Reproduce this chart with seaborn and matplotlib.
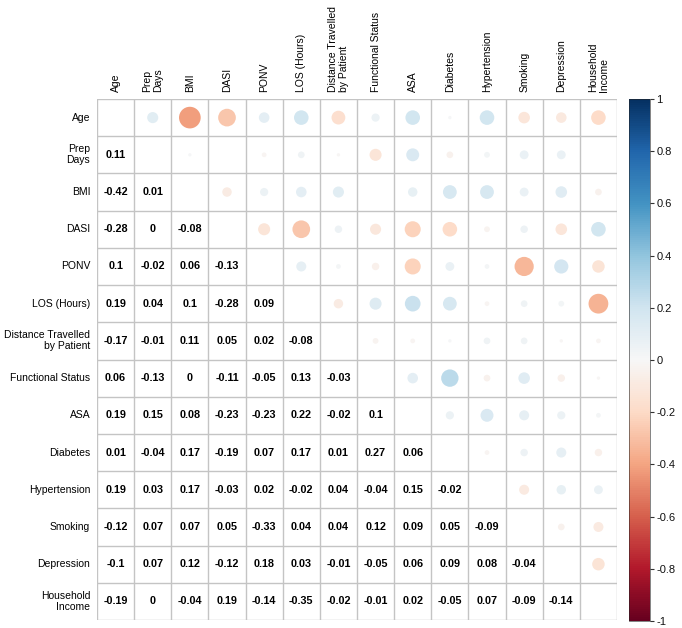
import numpy as np
import pandas as pd
import matplotlib
matplotlib.use("Agg")
import matplotlib.pyplot as plt
import seaborn as sns

sns.set_style("white")
plt.rcParams['font.family'] = ['Liberation Sans', 'DejaVu Sans']

labels = ["Age", "Prep\nDays", "BMI", "DASI", "PONV", "LOS (Hours)",
          "Distance Travelled\nby Patient", "Functional Status", "ASA",
          "Diabetes", "Hypertension", "Smoking", "Depression", "Household\nIncome"]

# lower-triangle correlations, row by row
r_prep = [0.11]
r_bmi = [-0.42, 0.01]
r_dasi = [-0.28, 0, -0.08]
r_ponv = [0.1, -0.02, 0.06, -0.13]
r_los = [0.19, 0.04, 0.1, -0.28, 0.09]
r_dist = [-0.17, -0.01, 0.11, 0.05, 0.02, -0.08]
r_func = [0.06, -0.13, 0, -0.11, -0.05, 0.13, -0.03]
r_asa = [0.19, 0.15, 0.08, -0.23, -0.23, 0.22, -0.02, 0.1]
r_diab = [0.01, -0.04, 0.17, -0.19, 0.07, 0.17, 0.01, 0.27, 0.06]
r_hyp = [0.19, 0.03, 0.17, -0.03, 0.02, -0.02, 0.04, -0.04, 0.15, -0.02]
r_smok = [-0.12, 0.07, 0.07, 0.05, -0.33, 0.04, 0.04, 0.12, 0.09, 0.05, -0.09]
r_depr = [-0.1, 0.07, 0.12, -0.12, 0.18, 0.03, -0.01, -0.05, 0.06, 0.09, 0.08, -0.04]
r_inc = [-0.19, 0, -0.04, 0.19, -0.14, -0.35, -0.02, -0.01, 0.02, -0.05, 0.07, -0.09, -0.14]

cbar_ticks = [-1, -0.8, -0.6, -0.4, -0.2, 0, 0.2, 0.4, 0.6, 0.8, 1]

rows = [[], r_prep, r_bmi, r_dasi, r_ponv, r_los, r_dist, r_func, r_asa,
        r_diab, r_hyp, r_smok, r_depr, r_inc]
n = len(labels)
M = np.eye(n)
for i, row in enumerate(rows):
    for j, v in enumerate(row):
        M[i, j] = v
        M[j, i] = v

# upper triangle -> circles
up = [(j, i, M[i, j], abs(M[i, j])) for i in range(n) for j in range(n) if j > i]
df_up = pd.DataFrame(up, columns=["x", "y", "r", "absr"])

W, H, DPI = 682, 628, 100
fig = plt.figure(figsize=(W / DPI, H / DPI), dpi=DPI)
L, R, T, B = 97, 617, 99, 620
ax = fig.add_axes([L / W, 1 - B / H, (R - L) / W, (B - T) / H])

cell_pt = (R - L) / n * 72 / DPI
max_area = (0.9 * cell_pt) ** 2

sns.scatterplot(data=df_up, x="x", y="y", hue="r", size="absr",
                palette="RdBu", hue_norm=(-1, 1),
                sizes=(0, max_area), size_norm=(0, 1),
                linewidth=0, legend=False, ax=ax, zorder=3)

for i in range(n):
    for j in range(i):
        ax.text(j, i, f"{M[i, j]:g}", ha="center", va="center",
                fontsize=7.8, fontweight="bold", color="black", zorder=4)

ax.set_xlim(-0.5, n - 0.5)
ax.set_ylim(n - 0.5, -0.5)
ax.set_xticks([])
ax.set_yticks([])
ax.set_xlabel("")
ax.set_ylabel("")
for k in range(n + 1):
    ax.axhline(k - 0.5, color="#C4C4C4", lw=1, zorder=1)
    ax.axvline(k - 0.5, color="#C4C4C4", lw=1, zorder=1)
for s in ax.spines.values():
    s.set_visible(False)

for i, lab in enumerate(labels):
    ax.text(-0.68, i, lab, ha="right", va="center", multialignment="right",
            fontsize=7.5, color="black", linespacing=1.1)
    ax.text(i, -0.68, lab, ha="center", va="bottom", rotation=90,
            multialignment="left", fontsize=7.5, color="black", linespacing=1.1)

# colorbar
cax = fig.add_axes([629 / W, 1 - 621 / H, 21 / W, 522 / H])
sm = plt.cm.ScalarMappable(cmap="RdBu", norm=plt.Normalize(-1, 1))
cb = fig.colorbar(sm, cax=cax)
cb.set_ticks(cbar_ticks)
cb.set_ticklabels([f"{t:g}" for t in cbar_ticks])
cb.ax.tick_params(labelsize=8, length=3, width=0.8, color="#333333", pad=1.5,
                  labelcolor="#111111")
cb.outline.set_linewidth(0.4)

fig.savefig("out.png", dpi=DPI)
